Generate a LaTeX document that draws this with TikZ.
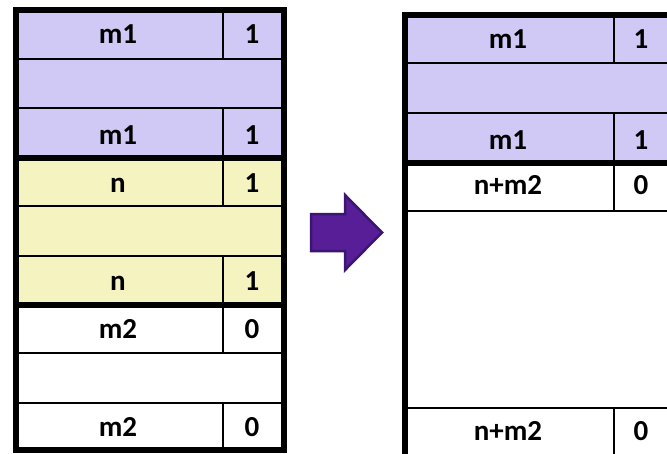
\documentclass[tikz,border=0pt]{standalone}
\usepackage{fontspec}
\setmainfont{Carlito}
\definecolor{lav}{RGB}{208,200,245}
\definecolor{yel}{RGB}{245,243,192}
\definecolor{arrfill}{RGB}{88,30,152}
\definecolor{arrline}{RGB}{60,20,115}
\begin{document}
\begin{tikzpicture}[x=1pt,y=-1pt,
  thinln/.style={line width=2pt,black},
  thickln/.style={line width=6pt,black},
  lbl/.style={font=\fontsize{29}{31}\selectfont\bfseries,anchor=base,inner sep=0pt}]
\useasboundingbox (0,0) rectangle (667,453);
\begin{scope}
\clip (0,0) rectangle (667,453);
% ---------- left stack ----------
\fill[lav] (15.5,10) rectangle (284,158);
\fill[yel] (15.5,158) rectangle (284,305);
\fill[white] (15.5,305) rectangle (284,450);
% thin row lines
\foreach \yy in {59,108,206,256,353,403}
  \draw[thinln] (15.5,\yy) -- (284,\yy);
% column dividers
\draw[thinln] (222.5,10) -- (222.5,59);
\draw[thinln] (222.5,108) -- (222.5,158);
\draw[thinln] (222.5,158) -- (222.5,206);
\draw[thinln] (222.5,256) -- (222.5,305);
\draw[thinln] (222.5,305) -- (222.5,353);
\draw[thinln] (222.5,403) -- (222.5,450);
% thick separators and outer box
\draw[thickln] (15.5,158) -- (284,158);
\draw[thickln] (15.5,305) -- (284,305);
\draw[thickln] (15.5,10) rectangle (284,450);
% labels
\node[lbl] (a1) at (118,43) {m1};
\node[lbl] (a1v) at (252,43) {1};
\node[lbl] (a2) at (118,144) {m1};
\node[lbl] (a2v) at (252,144) {1};
\node[lbl] (b1) at (118,192) {n};
\node[lbl] (b1v) at (252,192) {1};
\node[lbl] (b2) at (118,290) {n};
\node[lbl] (b2v) at (252,290) {1};
\node[lbl] (c1) at (118,338) {m2};
\node[lbl] (c1v) at (252,338) {0};
\node[lbl] (c2) at (118,436) {m2};
\node[lbl] (c2v) at (252,436) {0};
% ---------- arrow ----------
\draw[fill=arrfill,draw=arrline,line width=2.5pt,line join=miter]
  (311,214) -- (345,214) -- (345,195) -- (382,232.5) -- (345,270) -- (345,251) -- (311,251) -- cycle;
% ---------- right stack ----------
\fill[lav] (405,15) rectangle (676,163);
\fill[white] (405,163) rectangle (676,470);
\foreach \yy in {63,113,211,408}
  \draw[thinln] (405,\yy) -- (676,\yy);
\draw[thinln] (614,15) -- (614,63);
\draw[thinln] (614,113) -- (614,163);
\draw[thinln] (614,163) -- (614,211);
\draw[thinln] (614,408) -- (614,470);
\draw[thickln] (405,163) -- (676,163);
\draw[thickln] (405,15) rectangle (676,470);
\node[lbl] (d1) at (508,48) {m1};
\node[lbl] (d1v) at (641,48) {1};
\node[lbl] (d2) at (508,149) {m1};
\node[lbl] (d2v) at (641,149) {1};
\node[lbl] (e1) at (508,194) {n+m2};
\node[lbl] (e1v) at (641,194) {0};
\node[lbl] (e2) at (508,440) {n+m2};
\node[lbl] (e2v) at (641,440) {0};
\end{scope}
\end{tikzpicture}
\end{document}
